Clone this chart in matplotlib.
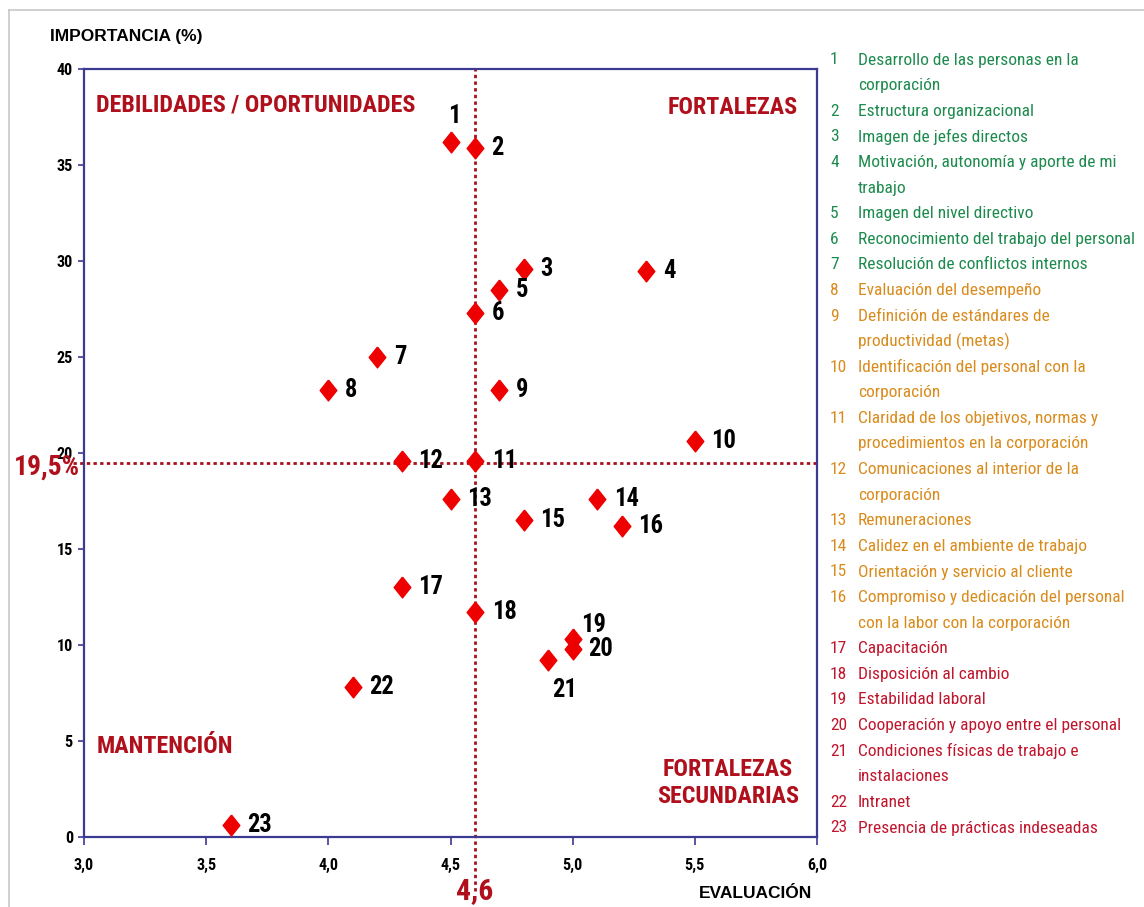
import matplotlib
matplotlib.use("Agg")
import matplotlib.pyplot as plt
from matplotlib import font_manager
from matplotlib.lines import Line2D

# evaluación (x) e importancia en % (y) de cada factor
evaluacion = [4.5, 4.6, 4.8, 5.3, 4.7, 4.6, 4.2, 4.0, 4.7, 5.5, 4.6, 4.3,
              4.5, 5.1, 4.8, 5.2, 4.3, 4.6, 5.0, 5.0, 4.9, 4.1, 3.6]
importancia = [36.2, 35.9, 29.6, 29.5, 28.5, 27.3, 25.0, 23.3, 23.3, 20.6, 19.6, 19.6,
               17.6, 17.6, 16.5, 16.2, 13.0, 11.7, 10.3, 9.8, 9.2, 7.8, 0.6]

factores = [
    "Desarrollo de las personas en la\ncorporación",
    "Estructura organizacional",
    "Imagen de jefes directos",
    "Motivación, autonomía y aporte de mi\ntrabajo",
    "Imagen del nivel directivo",
    "Reconocimiento del trabajo del personal",
    "Resolución de conflictos internos",
    "Evaluación del desempeño",
    "Definición de estándares de\nproductividad (metas)",
    "Identificación del personal con la\ncorporación",
    "Claridad de los objetivos, normas y\nprocedimientos en la corporación",
    "Comunicaciones al interior de la\ncorporación",
    "Remuneraciones",
    "Calidez en el ambiente de trabajo",
    "Orientación y servicio al cliente",
    "Compromiso y dedicación del personal\ncon la labor con la corporación",
    "Capacitación",
    "Disposición al cambio",
    "Estabilidad laboral",
    "Cooperación y apoyo entre el personal",
    "Condiciones físicas de trabajo e\ninstalaciones",
    "Intranet",
    "Presencia de prácticas indeseadas",
]

corte_x = 4.6
corte_y = 19.5

xticks = [3.0, 3.5, 4.0, 4.5, 5.0, 5.5, 6.0]
yticks = [0, 5, 10, 15, 20, 25, 30, 35, 40]

VERDE = "#1d8a4e"
NARANJA = "#d98b1c"
ROJO = "#c0152c"
ROJO_OSC = "#b0101c"
AZUL = "#3d3a94"


def hay_fuente(nombre):
    try:
        font_manager.findfont(nombre, fallback_to_default=False)
        return True
    except ValueError:
        return False


# fuente angosta si existe alguna; si no, Liberation Sans algo más chica
ANGOSTA, k = "Liberation Sans", 0.84
for nombre, escala in [("Liberation Sans Narrow", 1.0), ("Arial Narrow", 1.0),
                       ("Roboto Condensed", 0.93)]:
    if hay_fuente(nombre):
        ANGOSTA, k = nombre, escala
        break
NORMAL = "Liberation Sans"

W, H = 1144, 907
fig = plt.figure(figsize=(W / 100, H / 100), dpi=100)
ax = fig.add_axes([84 / W, 1 - 837 / H, (817 - 84) / W, (837 - 69) / H])

# marco gris exterior
fig.add_artist(Line2D([9 / W, 1], [1 - 10 / H, 1 - 10 / H], color="#c8c8c8", lw=1.2))
fig.add_artist(Line2D([9 / W, 9 / W], [0, 1 - 10 / H], color="#c8c8c8", lw=1.2))

ax.set_xlim(3, 6)
ax.set_ylim(0, 40)

# líneas de corte de los cuadrantes
ax.axvline(corte_x, ymin=-0.07, ymax=1, color="#a5101c", ls=(0, (1.2, 1.2)), lw=2, clip_on=False, zorder=2)
ax.axhline(corte_y, xmin=-0.015, xmax=1, color="#a5101c", ls=(0, (1.2, 1.2)), lw=2, clip_on=False, zorder=2)

rombo = [(0, 1), (0.8, 0), (0, -1), (-0.8, 0), (0, 1)]
ax.plot(evaluacion, importancia, ls="", marker=rombo, ms=15, color="#ee0000", zorder=3)

# posición de cada número respecto de su punto (en puntos)
desplaz = {1: (3, 19, "center"), 19: (6, 10, "left"), 20: (11, 0, "left"), 21: (12, -21, "center")}
for i, (x, y) in enumerate(zip(evaluacion, importancia), start=1):
    dx, dy, ha = desplaz.get(i, (12, 0, "left"))
    ax.annotate(str(i), (x, y), xytext=(dx, dy), textcoords="offset points",
                ha=ha, va="center", fontsize=19 * k, fontweight="bold",
                family=ANGOSTA, color="black", zorder=4)

for s in ax.spines.values():
    s.set_color(AZUL)
    s.set_linewidth(1.6)

ax.set_xticks(xticks)
ax.set_xticklabels([f"{v:.1f}".replace(".", ",") for v in xticks])
ax.set_yticks(yticks)
ax.set_yticklabels([str(v) for v in yticks])
ax.tick_params(axis="x", direction="out", length=6, width=1.2, color=AZUL, pad=9)
ax.tick_params(axis="y", direction="out", length=4, width=1.2, color=AZUL, pad=4)
for t in ax.get_xticklabels() + ax.get_yticklabels():
    t.set_family(ANGOSTA)
    t.set_fontweight("bold")
    t.set_fontsize(12.5 * k)

# nombres de los cuadrantes
kw_q = dict(color=ROJO_OSC, fontweight="bold", family=ANGOSTA, fontsize=18.6 * k)
ax.text(3.05, 38.15, "DEBILIDADES / OPORTUNIDADES", ha="left", va="center", **kw_q)
ax.text(5.92, 38.0, "FORTALEZAS", ha="right", va="center", **kw_q)
ax.text(3.05, 4.7, "MANTENCIÓN", ha="left", va="center", **kw_q)
ax.text(5.636, 2.8, "FORTALEZAS\nSECUNDARIAS", ha="center", va="center",
        multialignment="center", linespacing=1.2, **kw_q)

fig.text(50 / W, 1 - 37 / H, "IMPORTANCIA (%)", ha="left", va="center",
         fontsize=12.5, fontweight="bold", family=NORMAL)
fig.text(812 / W, 1 - 893 / H, "EVALUACIÓN", ha="right", va="center",
         fontsize=12.5, fontweight="bold", family=NORMAL)
fig.text(47 / W, 1 - 467 / H, "19,5%", ha="center", va="center", color=ROJO_OSC,
         fontsize=21.3 * k, fontweight="bold", family=ANGOSTA, zorder=5)
fig.text(475 / W, 1 - 891 / H, "4,6", ha="center", va="center", color=ROJO_OSC,
         fontsize=23 * k, fontweight="bold", family=ANGOSTA)

# lista de factores a la derecha, coloreada por grupo
y0, paso = 60, 25.6
fila = 0
for i, texto in enumerate(factores, start=1):
    c = VERDE if i <= 7 else (NARANJA if i <= 16 else ROJO)
    fig.text(830 / W, 1 - (y0 + fila * paso) / H, str(i), ha="left", va="center", color=c,
             fontsize=13.5 * k, family=ANGOSTA)
    for j, linea in enumerate(texto.split("\n")):
        fig.text(858 / W, 1 - (y0 + (fila + j) * paso) / H, linea, ha="left", va="center",
                 color=c, fontsize=13.5 * k, family=ANGOSTA)
    fila += texto.count("\n") + 1

fig.savefig("out.png", dpi=100, facecolor="white")
